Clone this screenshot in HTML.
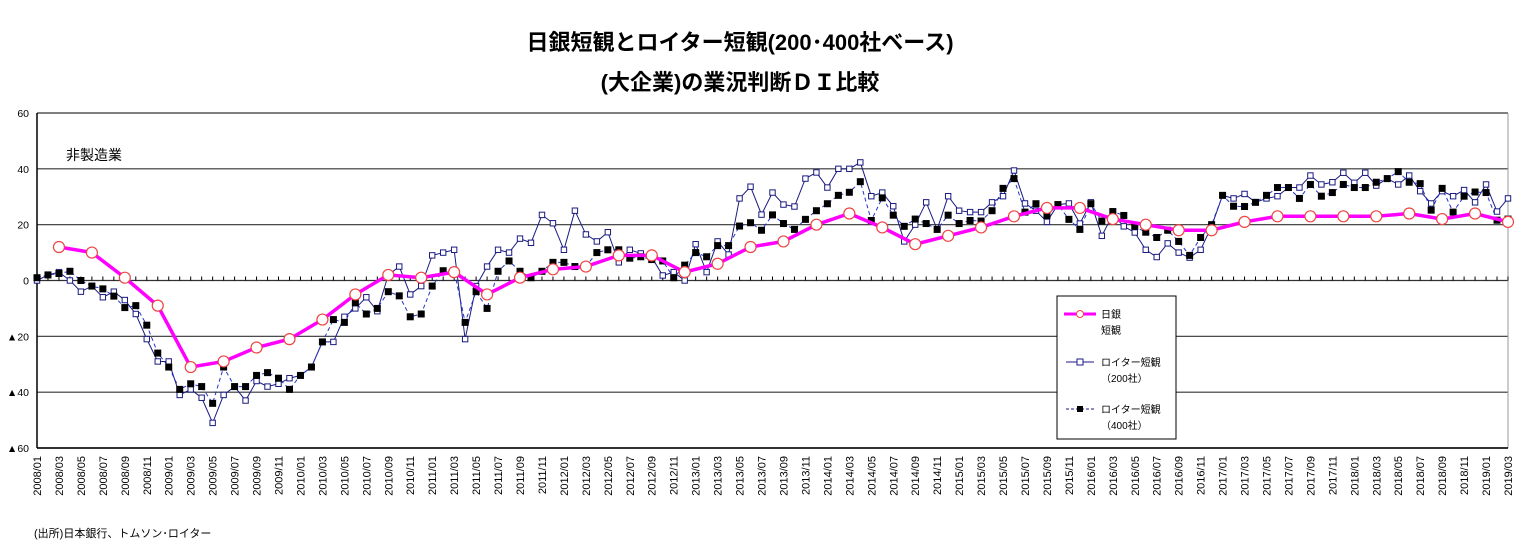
<!DOCTYPE html>
<html><head><meta charset="utf-8"><style>
body{margin:0;background:#fff;width:1521px;height:551px;overflow:hidden;font-family:"Liberation Sans","Noto Sans CJK JP",sans-serif}
</style></head><body>
<svg id="chart" width="1521" height="551" xmlns="http://www.w3.org/2000/svg" font-family="Liberation Sans, Noto Sans CJK JP, sans-serif">
<text x="740" y="50" text-anchor="middle" font-size="22" font-weight="bold">日銀短観とロイター短観(200･400社ベース)</text>
<text x="740" y="90" text-anchor="middle" font-size="22" font-weight="bold">(大企業)の業況判断ＤＩ比較</text>
<text x="66" y="160" font-size="14">非製造業</text>
<text x="34" y="537" font-size="11">(出所)日本銀行、トムソン･ロイター</text>
<g id="grid"></g><g id="axes"></g><g id="series"></g>
<g>
<rect x="1057" y="296" width="119" height="143" fill="#fff" stroke="#000" stroke-width="1"/>
<line x1="1064" y1="314" x2="1096" y2="314" stroke="#f0f" stroke-width="3"/>
<circle cx="1080" cy="314" r="3.5" fill="#fff" stroke="#e44"/>
<text x="1101" y="318" font-size="10">日銀</text><text x="1101" y="334" font-size="10">短観</text>
<line x1="1066" y1="362" x2="1094" y2="362" stroke="#1a1a80" stroke-width="1"/>
<rect x="1077" y="359" width="6" height="6" fill="#fff" stroke="#1a1a80"/>
<text x="1101" y="366" font-size="10">ロイター短観</text><text x="1101" y="382" font-size="10">（200社）</text>
<line x1="1066" y1="409" x2="1094" y2="409" stroke="#1a1a80" stroke-width="1" stroke-dasharray="3,2"/>
<rect x="1077" y="406" width="6" height="6" fill="#000"/>
<text x="1101" y="413" font-size="10">ロイター短観</text><text x="1101" y="429" font-size="10">（400社）</text>
</g>
</svg>
<script>
const yTicks=[60,40,20,0,-20,-40,-60];
const yTickLabels=["60","40","20","0","▲20","▲40","▲60"];
const startYear=2008,startMonth=1,monthCount=135;
const bojValues=[12,10,1,-9,-31,-29,-24,-21,-14,-5,2,1,3,-5,1,4,5,9,9,3,6,12,14,20,24,19,13,16,19,23,26,26,22,20,18,18,21,23,23,23,23,24,22,24,21];
const reuters200=[0,2,3,0,-4,-2,-6,-4,-7,-12,-21,-29,-29,-41,-39,-42,-51,-41,-38,-43,-36,-38,-37,-35,-34,-31,-22,-22,-13,-10,-6,-11,2,5,-5,-2,9,10,11,-21,-2,5,11,10,15,13.5,23.5,20.5,11,25,16.5,14,17.3,6.5,11,9.7,8.3,1.8,3,0,13,3,14,9.3,29.4,33.6,23.6,31.5,27.2,26.5,36.5,38.7,33.3,40,40,42.3,30.2,31.5,26.6,14,20,28,18.3,30.2,25,24.5,24.5,28,30.2,39.4,27.6,25,21,27.2,27.6,20.4,28,16,23.6,19.4,17.2,11,8.4,13.3,10,8.2,11,19.4,30.5,29.4,31,28,29.4,30.2,33.3,33.3,37.6,34.4,35.2,38.6,35,38.6,34,36.5,34.4,37.6,32,27.6,32,30.2,32.4,28,34.4,24.7,29.4];
const reuters400=[1,2,2.5,3.3,0,-2,-3,-5.6,-9.7,-9,-16,-26,-31,-39,-37,-38,-44,-31,-38,-38,-34,-33,-35,-39,-34,-31,-22,-14,-15,-8,-12,-10,-4,-5.5,-13,-12,-2,3.5,3.5,-15,-4,-10,3.3,7,3.3,1,3.3,6.5,6.5,5,5,10,11,11,8,8.5,7.5,7,1,5.5,10,8.5,12.5,12.5,19.5,20.7,18,23.5,20.4,18.3,21.9,25,27.5,30.5,31.6,35.4,21.5,29.6,23.4,19.4,22,20.4,18.3,23.4,20.4,21.5,21.3,25,33,36.5,24.5,27.5,23.3,27.2,21.9,18.3,27.5,21.3,24.7,23.3,19.4,17.3,15.4,18,14,9,15.4,20,30.5,26.6,26.5,28,30.5,33.3,33.3,29.4,34.4,30.2,31.5,34.4,33.3,33.3,35.2,36.5,39,35.2,34.7,25.2,33,24.5,30.2,31.7,31.5,21.6,22];
const NS="http://www.w3.org/2000/svg";
const X0=37,X1=1508,Y0=448,Y1=113;
function xScale(i){return X0+(X1-X0)*i/(monthCount-1);}
function yScale(v){return Y0-(v+60)/120*(Y0-Y1);}
function mk(tag,attrs,parent){const e=document.createElementNS(NS,tag);for(const k in attrs)e.setAttribute(k,attrs[k]);parent.appendChild(e);return e;}
const grid=document.getElementById('grid'),axes=document.getElementById('axes'),ser=document.getElementById('series');
yTicks.forEach((t,k)=>{
 const l=mk('line',{x1:X0,x2:X1,y1:yScale(t),y2:yScale(t),stroke:'#333','stroke-width':1.2},grid);
 
 
 const tx=mk('text',{x:X0-8,y:yScale(t)+4,'text-anchor':'end','font-size':10.5},axes);
 tx.textContent=yTickLabels[k];
 
 
});
mk('line',{x1:X0,x2:X0,y1:Y1,y2:Y0,stroke:'#000','stroke-width':1.5},axes);
mk('line',{x1:X1,x2:X1,y1:Y1,y2:Y0,stroke:'#999','stroke-width':1},axes);
mk('line',{x1:X0,x2:X1,y1:Y0,y2:Y0,stroke:'#000','stroke-width':1.5},axes);
for(let i=0;i<monthCount;i++){
 const x=xScale(i);
 mk('line',{x1:x,x2:x,y1:yScale(0)-4,y2:yScale(0),stroke:'#000','stroke-width':1},axes);
 if(i%2===0){
  const y=startYear+Math.floor((startMonth-1+i)/12),m=(startMonth-1+i)%12+1;
  const tx=mk('text',{x:0,y:0,transform:`translate(${x+4},${Y0+8}) rotate(-90)`,'text-anchor':'end','font-size':11},axes);
  tx.textContent=y+'/'+String(m).padStart(2,'0');
  
  
 }
}
function line(vals,xi,attrs,name){
 const p=mk('polyline',Object.assign({points:vals.map((v,i)=>xScale(xi(i))+','+yScale(v)).join(' '),fill:'none'},attrs),ser);
 
 
}
line(reuters200,i=>i,{stroke:'#1a1a80','stroke-width':1},'reuters200-line');
line(reuters400,i=>i,{stroke:'#2233cc','stroke-width':1,'stroke-dasharray':'4,3'},'reuters400-line');
reuters200.forEach((v,i)=>{const r=mk('rect',{x:xScale(i)-2.7,y:yScale(v)-2.7,width:5.4,height:5.4,fill:'#fff',stroke:'#1a1a80','stroke-width':1},ser);
 
 });
reuters400.forEach((v,i)=>{const r=mk('rect',{x:xScale(i)-3.5,y:yScale(v)-3.5,width:7,height:7,fill:'#000'},ser);
 
 });
line(bojValues,i=>2+3*i,{stroke:'#f0f','stroke-width':3.5},'boj-line');
bojValues.forEach((v,i)=>{const c=mk('circle',{cx:xScale(2+3*i),cy:yScale(v),r:5.5,fill:'#fff',stroke:'#e44','stroke-width':1.2},ser);
 
 });
</script>
</body></html>
